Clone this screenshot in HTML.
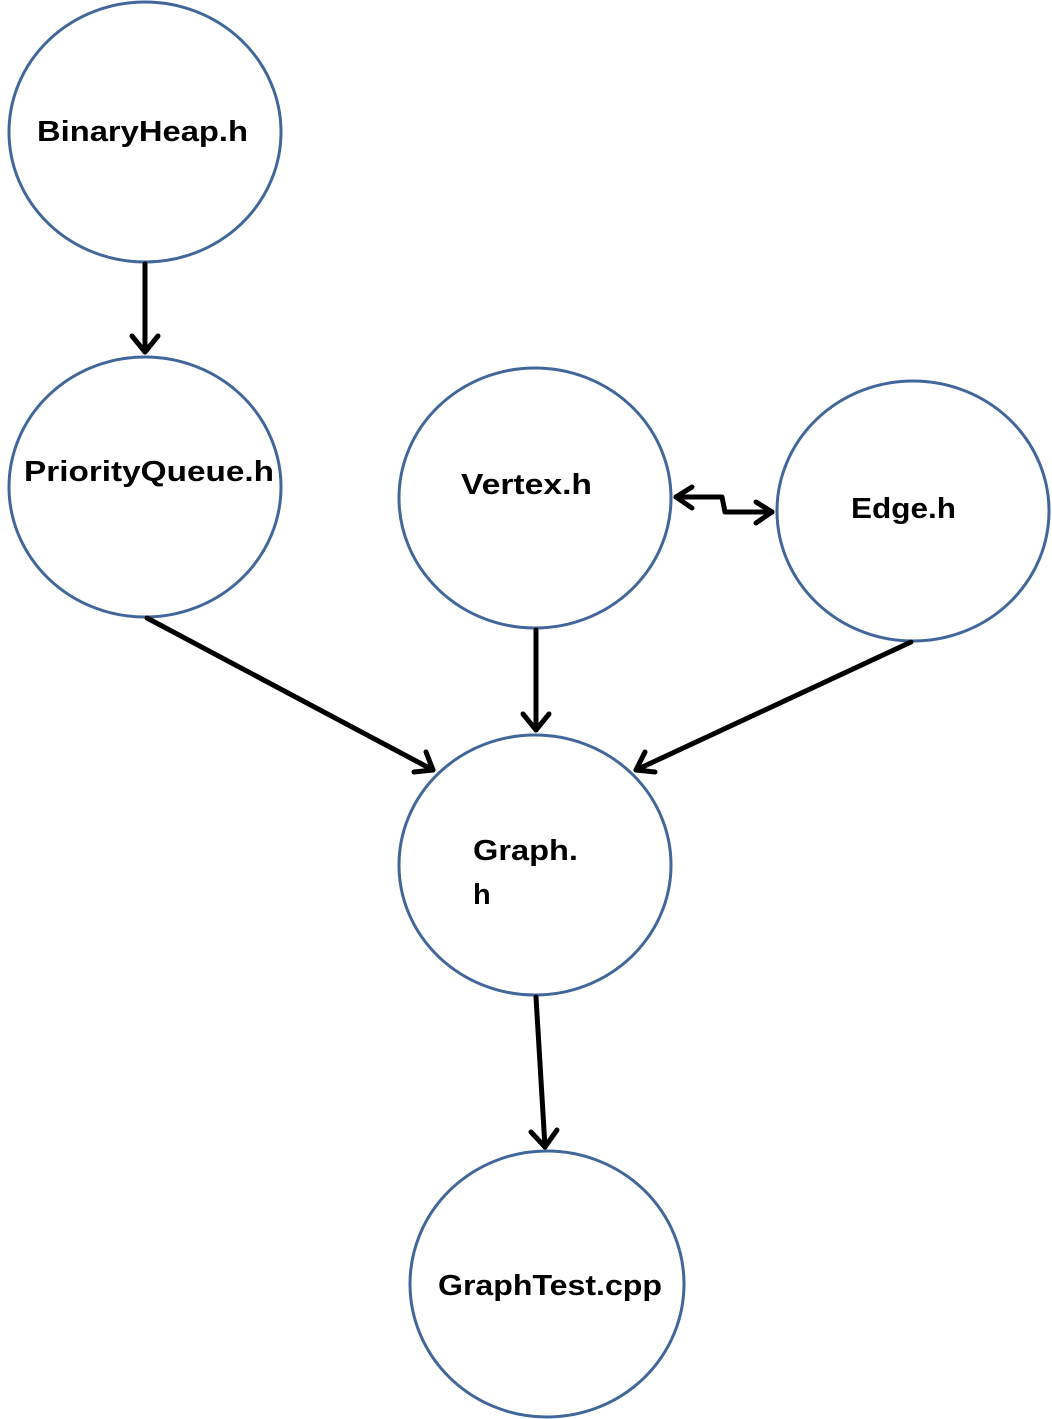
<!DOCTYPE html>
<html><head><meta charset="utf-8"><style>
html,body{margin:0;padding:0;background:#fff;}
svg{display:block;}
text{font-family:"Liberation Sans",sans-serif;font-weight:bold;font-size:29px;fill:#000;}
</style></head><body>
<svg width="1052" height="1419" viewBox="0 0 1052 1419" xmlns="http://www.w3.org/2000/svg">
<g fill="#fff" stroke="#41679a" stroke-width="3">
<ellipse cx="145" cy="132" rx="136" ry="130"/>
<ellipse cx="145" cy="487" rx="136" ry="130"/>
<ellipse cx="535" cy="498" rx="136" ry="130"/>
<ellipse cx="913" cy="511" rx="136" ry="130"/>
<ellipse cx="535" cy="865" rx="136" ry="130"/>
<ellipse cx="547" cy="1284" rx="137" ry="133"/>
</g>
<g stroke="#000" stroke-width="5" fill="none" stroke-linecap="round" stroke-linejoin="round">
<line x1="145" y1="264" x2="145" y2="352"/>
<polyline points="132,336 145,352 158,336"/>
<line x1="147" y1="618" x2="433" y2="770"/>
<polyline points="414,772 433,770 426,752"/>
<line x1="536" y1="630" x2="536" y2="730"/>
<polyline points="523,714 536,730 549,714"/>
<line x1="911" y1="642" x2="636" y2="770"/>
<polyline points="645,752 636,770 655,772"/>
<line x1="536" y1="997" x2="545" y2="1147"/>
<polyline points="531,1132 545,1147 557,1130"/>
<polyline points="676,497 722,497 725,512 772,512"/>
<polyline points="692,487 676,497 692,508"/>
<polyline points="756,502 772,512 756,523"/>
</g>
<text x="37" y="141" textLength="211" lengthAdjust="spacingAndGlyphs">BinaryHeap.h</text>
<text x="24" y="481" textLength="250" lengthAdjust="spacingAndGlyphs">PriorityQueue.h</text>
<text x="461" y="494" textLength="131" lengthAdjust="spacingAndGlyphs">Vertex.h</text>
<text x="851" y="518" textLength="105" lengthAdjust="spacingAndGlyphs">Edge.h</text>
<text x="473" y="860" textLength="105" lengthAdjust="spacingAndGlyphs">Graph.</text>
<text x="473" y="904">h</text>
<text x="438" y="1295" textLength="224" lengthAdjust="spacingAndGlyphs">GraphTest.cpp</text>
</svg>
</body></html>
